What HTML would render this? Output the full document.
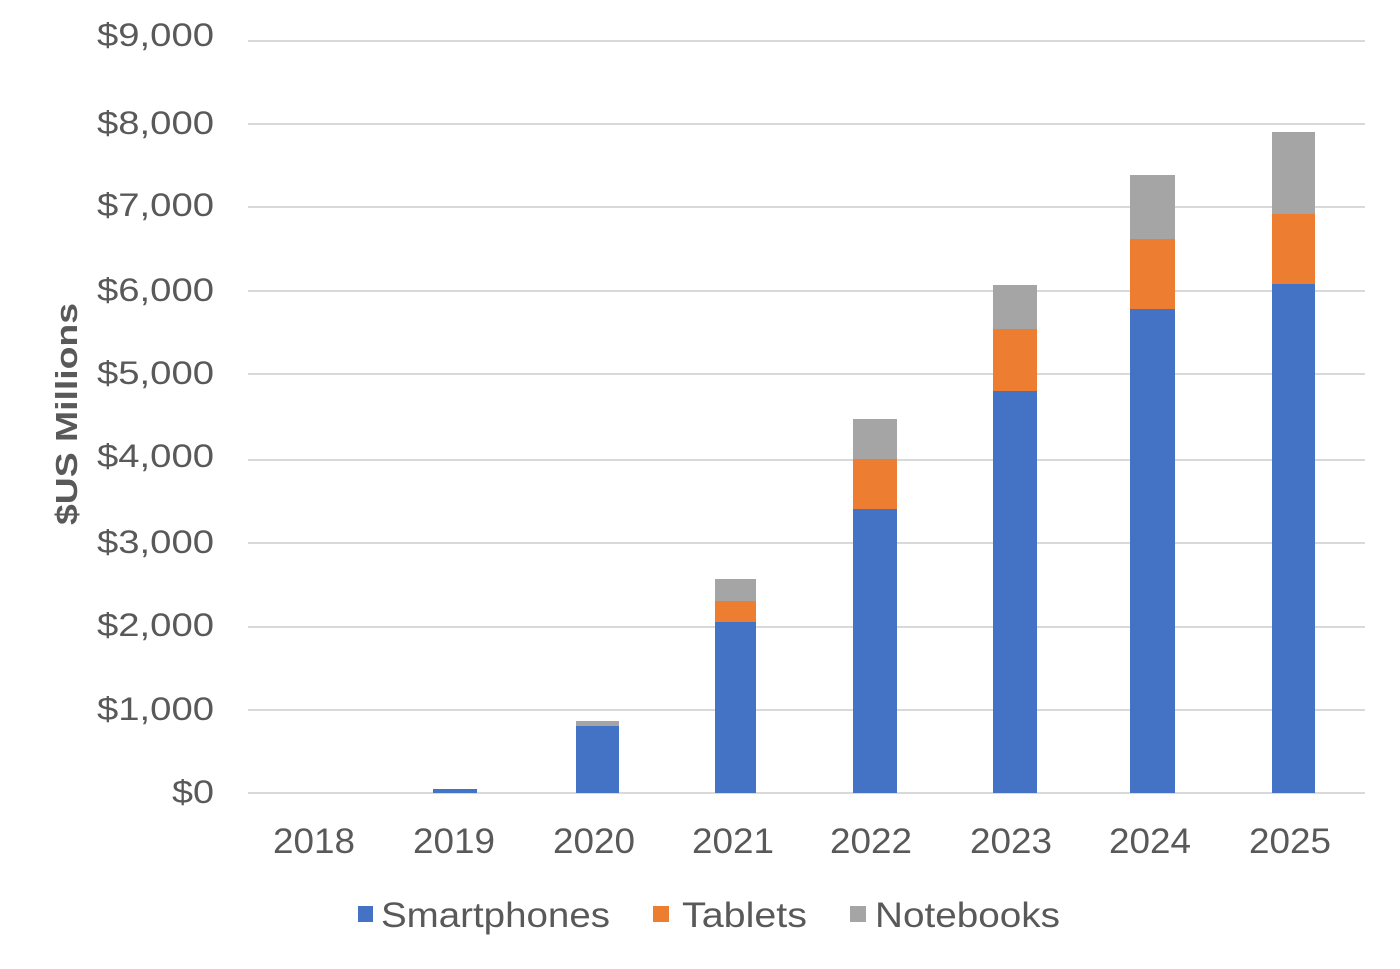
<!DOCTYPE html>
<html><head><meta charset="utf-8"><style>
html,body{margin:0;padding:0;background:#fff;}
svg text{font-family:"Liberation Sans",Arial,sans-serif;fill:#595959;}
</style></head><body>
<svg width="1400" height="964" viewBox="0 0 1400 964" xmlns="http://www.w3.org/2000/svg">
<g stroke="#d9d9d9" stroke-width="2">
<line x1="248" x2="1365" y1="41" y2="41"/>
<line x1="248" x2="1365" y1="124" y2="124"/>
<line x1="248" x2="1365" y1="207" y2="207"/>
<line x1="248" x2="1365" y1="291" y2="291"/>
<line x1="248" x2="1365" y1="374" y2="374"/>
<line x1="248" x2="1365" y1="460" y2="460"/>
<line x1="248" x2="1365" y1="543" y2="543"/>
<line x1="248" x2="1365" y1="627" y2="627"/>
<line x1="248" x2="1365" y1="710" y2="710"/>
<line x1="248" x2="1365" y1="793" y2="793"/>
</g>
<g font-size="32">
<text x="97" y="46" textLength="117" lengthAdjust="spacingAndGlyphs">$9,000</text>
<text x="97" y="134" textLength="117" lengthAdjust="spacingAndGlyphs">$8,000</text>
<text x="97" y="216" textLength="117" lengthAdjust="spacingAndGlyphs">$7,000</text>
<text x="97" y="301" textLength="117" lengthAdjust="spacingAndGlyphs">$6,000</text>
<text x="97" y="384" textLength="117" lengthAdjust="spacingAndGlyphs">$5,000</text>
<text x="97" y="467" textLength="117" lengthAdjust="spacingAndGlyphs">$4,000</text>
<text x="97" y="553" textLength="117" lengthAdjust="spacingAndGlyphs">$3,000</text>
<text x="97" y="636" textLength="117" lengthAdjust="spacingAndGlyphs">$2,000</text>
<text x="97" y="720" textLength="117" lengthAdjust="spacingAndGlyphs">$1,000</text>
<text x="172" y="803" textLength="42" lengthAdjust="spacingAndGlyphs">$0</text>
</g>
<text transform="translate(77,525) rotate(-90)" font-size="31" font-weight="bold" textLength="222" lengthAdjust="spacingAndGlyphs">$US Millions</text>
<rect x="433" y="789" width="44" height="4" fill="#4472C4"/>
<rect x="576" y="721" width="43" height="6" fill="#A5A5A5"/>
<rect x="576" y="726" width="43" height="67" fill="#4472C4"/>
<rect x="715" y="579" width="41" height="23" fill="#A5A5A5"/>
<rect x="715" y="601" width="41" height="22" fill="#ED7D31"/>
<rect x="715" y="622" width="41" height="171" fill="#4472C4"/>
<rect x="853" y="419" width="44" height="41" fill="#A5A5A5"/>
<rect x="853" y="459" width="44" height="51" fill="#ED7D31"/>
<rect x="853" y="509" width="44" height="284" fill="#4472C4"/>
<rect x="993" y="285" width="44" height="45" fill="#A5A5A5"/>
<rect x="993" y="329" width="44" height="63" fill="#ED7D31"/>
<rect x="993" y="391" width="44" height="402" fill="#4472C4"/>
<rect x="1130" y="175" width="45" height="65" fill="#A5A5A5"/>
<rect x="1130" y="239" width="45" height="71" fill="#ED7D31"/>
<rect x="1130" y="309" width="45" height="484" fill="#4472C4"/>
<rect x="1272" y="132" width="43" height="83" fill="#A5A5A5"/>
<rect x="1272" y="214" width="43" height="71" fill="#ED7D31"/>
<rect x="1272" y="284" width="43" height="509" fill="#4472C4"/>
<g font-size="35">
<text x="273" y="853" textLength="82" lengthAdjust="spacingAndGlyphs">2018</text>
<text x="413" y="853" textLength="82" lengthAdjust="spacingAndGlyphs">2019</text>
<text x="553" y="853" textLength="82" lengthAdjust="spacingAndGlyphs">2020</text>
<text x="692" y="853" textLength="82" lengthAdjust="spacingAndGlyphs">2021</text>
<text x="830" y="853" textLength="82" lengthAdjust="spacingAndGlyphs">2022</text>
<text x="970" y="853" textLength="82" lengthAdjust="spacingAndGlyphs">2023</text>
<text x="1109" y="853" textLength="82" lengthAdjust="spacingAndGlyphs">2024</text>
<text x="1249" y="853" textLength="82" lengthAdjust="spacingAndGlyphs">2025</text>
</g>
<rect x="358" y="906" width="15" height="16" fill="#4472C4"/>
<rect x="653" y="906" width="16" height="16" fill="#ED7D31"/>
<rect x="850" y="906" width="16" height="16" fill="#A5A5A5"/>
<g font-size="35">
<text x="381" y="927" textLength="229" lengthAdjust="spacingAndGlyphs">Smartphones</text>
<text x="682" y="927" textLength="125" lengthAdjust="spacingAndGlyphs">Tablets</text>
<text x="875" y="927" textLength="185" lengthAdjust="spacingAndGlyphs">Notebooks</text>
</g>
</svg>
</body></html>
